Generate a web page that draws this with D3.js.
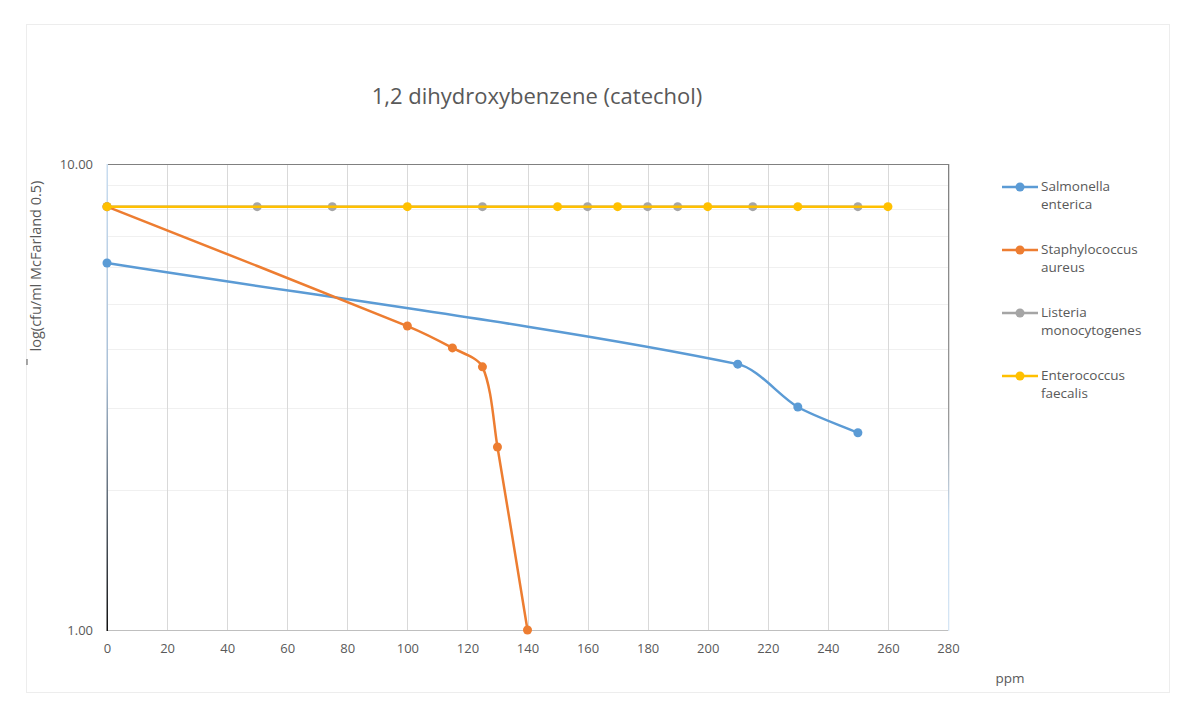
<!DOCTYPE html>
<html><head><meta charset="utf-8">
<script src="https://cdn.jsdelivr.net/npm/d3@7"></script>
<style>body{margin:0;background:#fff;}svg{display:block;font-family:"Open Sans","Noto Sans",sans-serif;}</style>
</head><body><svg id="c" width="1181" height="704"></svg>
<script>
const title = "1,2 dihydroxybenzene (catechol)";
const yAxisTitle = "log(cfu/ml McFarland 0.5)";
const xAxisTitle = "ppm";
const xTicks = [0,20,40,60,80,100,120,140,160,180,200,220,240,260,280];
const yTickValues = [1, 10];
const yTickLabels = ["1.00", "10.00"];
const yMinor = [2,3,4,5,6,7,8,9];

const seriesNames = ["Salmonella enterica","Staphylococcus aureus","Listeria monocytogenes","Enterococcus faecalis"];
const seriesLegend = [["Salmonella","enterica"],["Staphylococcus","aureus"],["Listeria","monocytogenes"],["Enterococcus","faecalis"]];
const seriesColors = ["#5b9bd5","#ed7d31","#a5a5a5","#ffc000"];

const salmonellaX = [0, 210, 230, 250];
const salmonellaY = [6.13, 3.72, 3.01, 2.65];
const staphX = [0, 100, 115, 125, 130, 140];
const staphY = [8.1, 4.49, 4.03, 3.67, 2.47, 1.0];
const listeriaX = [0, 50, 75, 125, 160, 180, 190, 215, 250];
const listeriaY = [8.1, 8.1, 8.1, 8.1, 8.1, 8.1, 8.1, 8.1, 8.1];
const enteroX = [0, 100, 150, 170, 200, 230, 260];
const enteroY = [8.1, 8.1, 8.1, 8.1, 8.1, 8.1, 8.1];

const allX = [salmonellaX, staphX, listeriaX, enteroX];
const allY = [salmonellaY, staphY, listeriaY, enteroY];

const svg = d3.select("#c");
const L = 107, R = 948, T = 164, B = 630;
const x = d3.scaleLinear().domain([0,280]).range([L,R]);
const y = d3.scaleLog().domain([1,10]).range([B,T]);

svg.append("rect").attr("x",26.5).attr("y",24.5).attr("width",1143).attr("height",668)
  .attr("fill","none").attr("stroke","#ededed");

const defs = svg.append("defs");
const gl = defs.append("linearGradient").attr("id","gl").attr("x1",0).attr("y1",0).attr("x2",0).attr("y2",1);
gl.append("stop").attr("offset","0%").attr("stop-color","#c9ddf0");
gl.append("stop").attr("offset","45%").attr("stop-color","#a9bfd6");
gl.append("stop").attr("offset","100%").attr("stop-color","#111");
const gr = defs.append("linearGradient").attr("id","gr").attr("x1",0).attr("y1",0).attr("x2",0).attr("y2",1);
gr.append("stop").attr("offset","0%").attr("stop-color","#808080");
gr.append("stop").attr("offset","55%").attr("stop-color","#9a9a9a");
gr.append("stop").attr("offset","75%").attr("stop-color","#c9ddf0");
gr.append("stop").attr("offset","100%").attr("stop-color","#d6e6f5");

svg.append("g").selectAll("line").data(yMinor).join("line")
  .attr("x1",L).attr("x2",R).attr("y1",d=>Math.round(y(d))+0.5).attr("y2",d=>Math.round(y(d))+0.5)
  .attr("stroke","#f0f0f0").attr("stroke-width",1);

svg.append("g").selectAll("line").data(xTicks.filter(d=>d>0&&d<280)).join("line")
  .attr("x1",d=>Math.round(x(d))+0.5).attr("x2",d=>Math.round(x(d))+0.5).attr("y1",T).attr("y2",B)
  .attr("stroke","#d9d9d9").attr("stroke-width",1);

svg.append("line").attr("x1",L).attr("x2",R+1).attr("y1",T+0.5).attr("y2",T+0.5).attr("stroke","#808080").attr("stroke-width",1.2);
svg.append("line").attr("x1",L).attr("x2",R+1).attr("y1",B+0.5).attr("y2",B+0.5).attr("stroke","#bfbfbf").attr("stroke-width",1);
svg.append("rect").attr("x",L-0.5).attr("y",T).attr("width",1.5).attr("height",B-T+1).attr("fill","url(#gl)");
svg.append("rect").attr("x",R).attr("y",T).attr("width",1.3).attr("height",B-T+1).attr("fill","url(#gr)");

const xAxis = d3.axisBottom(x).tickValues(xTicks).tickSize(0).tickPadding(14);
const gx = svg.append("g").attr("transform",`translate(0,${B})`).call(xAxis);
gx.select(".domain").remove();
gx.selectAll("text").attr("fill","#595959").attr("font-size","13px").attr("font-family","'Open Sans','Noto Sans',sans-serif");

const yAxis = d3.axisLeft(y).tickValues(yTickValues).tickFormat((d,i)=>yTickLabels[i]).tickSize(0).tickPadding(14);
const gy = svg.append("g").attr("transform",`translate(${L},0)`).call(yAxis);
gy.select(".domain").remove();
gy.selectAll("text").attr("fill","#595959").attr("font-size","13px").attr("font-family","'Open Sans','Noto Sans',sans-serif");

svg.append("text").attr("x",537).attr("y",104).attr("text-anchor","middle")
  .attr("font-size","22px").attr("fill","#595959").text(title);
svg.append("text").attr("transform","translate(41,266) rotate(-90)").attr("text-anchor","middle")
  .attr("font-size","14.5px").attr("fill","#595959").text(yAxisTitle);
svg.append("text").attr("x",1010).attr("y",683).attr("text-anchor","middle")
  .attr("font-size","13.5px").attr("fill","#595959").text(xAxisTitle);
svg.append("line").attr("x1",27).attr("x2",27).attr("y1",359).attr("y2",365).attr("stroke","#555").attr("stroke-width",1);

// Excel-like smoothed path: tangent direction from neighbours, handle length = 1/3 of segment * k
function smoothPath(pts, k) {
  const p = d3.path();
  const P = pts.map(d => [x(d[0]), y(d[1])]);
  const n = P.length;
  const dir = P.map((q,i) => {
    const a = P[Math.max(0,i-1)], b = P[Math.min(n-1,i+1)];
    const dx = b[0]-a[0], dy = b[1]-a[1], l = Math.hypot(dx,dy) || 1;
    return [dx/l, dy/l];
  });
  p.moveTo(P[0][0], P[0][1]);
  for (let i = 0; i < n-1; i++) {
    const a = P[i], b = P[i+1];
    const len = Math.hypot(b[0]-a[0], b[1]-a[1]) / 3 * k;
    p.bezierCurveTo(a[0]+dir[i][0]*len, a[1]+dir[i][1]*len,
                    b[0]-dir[i+1][0]*len, b[1]-dir[i+1][1]*len, b[0], b[1]);
  }
  return p.toString();
}

allX.forEach((xs,i)=>{
  const pts = xs.map((v,j)=>[v, allY[i][j]]);
  const g = svg.append("g");
  g.append("path").attr("d",smoothPath(pts, 0.85)).attr("fill","none")
    .attr("stroke",seriesColors[i]).attr("stroke-width",2.5).attr("stroke-linejoin","round");
  g.selectAll("circle").data(pts).join("circle")
    .attr("cx",d=>x(d[0])).attr("cy",d=>y(d[1])).attr("r",4.5).attr("fill",seriesColors[i]);
});

const legY = [187, 250, 313, 376];
seriesLegend.forEach((lab,i)=>{
  const g = svg.append("g").attr("transform",`translate(0,${legY[i]})`);
  g.append("line").attr("x1",1002).attr("x2",1038).attr("y1",0).attr("y2",0).attr("stroke",seriesColors[i]).attr("stroke-width",2.5);
  g.append("circle").attr("cx",1020).attr("cy",0).attr("r",4.5).attr("fill",seriesColors[i]);
  g.append("text").attr("x",1041).attr("y",4).attr("font-size","13.5px").attr("fill","#595959").text(lab[0]);
  g.append("text").attr("x",1041).attr("y",22).attr("font-size","13.5px").attr("fill","#595959").text(lab[1]);
});
</script></body></html>
